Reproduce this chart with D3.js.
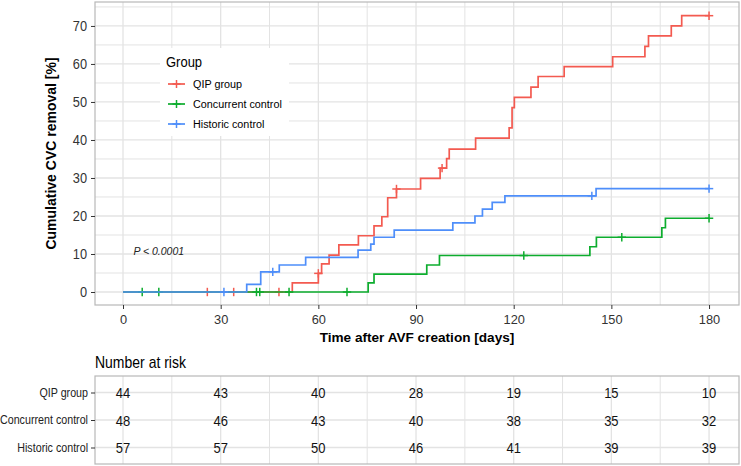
<!DOCTYPE html>
<html>
<head>
<meta charset="utf-8">
<script src="https://cdn.jsdelivr.net/npm/d3@7"></script>
<style>
  body { margin: 0; background: #fff; }
  svg { display: block; font-family: "Liberation Sans", Arial, sans-serif; }
</style>
</head>
<body>
<svg id="chart" width="741" height="466"></svg>
<script>
// group names and colours
const groups = ["QIP group", "Concurrent control", "Historic control"];
const colors = ["#F35A50", "#0DAD2E", "#4E8EFA"];

// step curves (event time in days, cumulative removal in %)
const qipTime = [0, 52, 60, 61, 63.3, 66.3, 72.3, 77.1, 79.5, 81.3, 84, 91.4, 97.4, 99.4, 100.2,
                 108.3, 118.6, 119.5, 120.2, 125.3, 127.5, 135.5, 150.4, 160.3, 161.4, 168.4, 171.6];
const qipPct  = [0, 2.4, 4.9, 7.4, 9.7, 12.4, 14.8, 17.4, 19.8, 24.8, 27.1, 29.9, 32.6, 35.1, 37.6,
                 40.5, 43.2, 48.5, 51.2, 53.9, 56.7, 59.3, 61.9, 64.6, 67.4, 70.0, 72.7];
const qipCensor = [25.9, 34, 47.9, 60, 84, 98, 180];

const ccTime = [0, 75.3, 77.1, 93.3, 97.2, 143.4, 145.4, 165.5, 166.6];
const ccPct  = [0, 2.4, 4.7, 7.1, 9.6, 11.9, 14.4, 16.9, 19.4];
const ccCensor = [5.9, 11, 41, 42, 51, 68.8, 123.1, 153.2, 180];

const hcTime = [0, 38, 42.3, 48, 56.1, 72.2, 76.1, 77.1, 83.3, 101.3, 108.1, 110.4, 113.4, 117.3, 145.3];
const hcPct  = [0, 2.0, 5.3, 7.1, 9.1, 11.0, 12.6, 14.4, 16.3, 18.2, 20.0, 21.8, 23.6, 25.3, 27.2];
const hcCensor = [31, 46, 144, 180];

// number at risk table
const riskTimes = [0, 30, 60, 90, 120, 150, 180];
const qipRisk = [44, 43, 40, 28, 19, 15, 10];
const ccRisk  = [48, 46, 43, 40, 38, 35, 32];
const hcRisk  = [57, 57, 50, 46, 41, 39, 39];

const xTicks = [0, 30, 60, 90, 120, 150, 180];
const yTicks = [0, 10, 20, 30, 40, 50, 60, 70];
const maxTime = 180;

const curves = [
  {time: qipTime, pct: qipPct, censor: qipCensor, risk: qipRisk},
  {time: ccTime, pct: ccPct, censor: ccCensor, risk: ccRisk},
  {time: hcTime, pct: hcPct, censor: hcCensor, risk: hcRisk}
];

const svg = d3.select("#chart");
const panel = {left: 95, right: 739, top: 2, bottom: 305};
const table = {top: 376, bottom: 464};
const gridCol = "#E3E3E3";
const borderCol = "#B8B8B8";

let x = d3.scaleLinear().domain([-8.6, 189.2]).range([panel.left, panel.right]);
let y = d3.scaleLinear().domain([-3.42, 76.3]).range([panel.bottom, panel.top]);

// the reference text is a bit taller than wide, stretch it vertically
function stretch(sel, k) {
  sel.each(function() {
    let t = d3.select(this);
    let tx = +t.attr("x") || 0, tyy = +t.attr("y") || 0;
    t.attr("transform", "translate(" + tx + "," + tyy + ") scale(1," + k + ") translate(" + (-tx) + "," + (-tyy) + ")");
  });
}

// ---- main panel grid
let grid = svg.append("g");
let minorX = d3.range(15, 190, 30);
let minorY = d3.range(5, 80, 10);
grid.selectAll(".mx").data(minorX).enter().append("line")
    .attr("x1", d => x(d)).attr("x2", d => x(d))
    .attr("y1", panel.top).attr("y2", panel.bottom)
    .attr("stroke", gridCol).attr("stroke-width", 1);
grid.selectAll(".my").data(minorY).enter().append("line")
    .attr("y1", d => y(d)).attr("y2", d => y(d))
    .attr("x1", panel.left).attr("x2", panel.right)
    .attr("stroke", gridCol).attr("stroke-width", 1);
grid.selectAll(".gx").data(xTicks).enter().append("line")
    .attr("x1", d => x(d)).attr("x2", d => x(d))
    .attr("y1", panel.top).attr("y2", panel.bottom)
    .attr("stroke", gridCol).attr("stroke-width", 1.3);
grid.selectAll(".gy").data(yTicks).enter().append("line")
    .attr("y1", d => y(d)).attr("y2", d => y(d))
    .attr("x1", panel.left).attr("x2", panel.right)
    .attr("stroke", gridCol).attr("stroke-width", 1.3);

// ---- legend background (covers grid)
svg.append("rect")
    .attr("x", 160).attr("y", 48).attr("width", 129).attr("height", 88)
    .attr("fill", "#fff");

// ---- curves
function stepAt(c, t) {
  let v = 0;
  for (let i = 0; i < c.time.length; i++) if (c.time[i] <= t) v = c.pct[i];
  return v;
}
function plus(g, cx, cy, col, s) {
  g.append("line").attr("x1", cx - s).attr("x2", cx + s).attr("y1", cy).attr("y2", cy)
   .attr("stroke", col).attr("stroke-width", 1.5);
  g.append("line").attr("x1", cx).attr("x2", cx).attr("y1", cy - s).attr("y2", cy + s)
   .attr("stroke", col).attr("stroke-width", 1.5);
}

curves.forEach(function(c, gi) {
  let pts = c.time.map((t, i) => [t, c.pct[i]]);
  pts.push([maxTime, c.pct[c.pct.length - 1]]);
  let line = d3.line().x(d => x(d[0])).y(d => y(d[1])).curve(d3.curveStepAfter);
  let g = svg.append("g");
  g.append("path").datum(pts)
    .attr("d", line)
    .attr("fill", "none")
    .attr("stroke", colors[gi])
    .attr("stroke-width", 1.7);
  c.censor.forEach(t => plus(g, x(t), y(stepAt(c, t)), colors[gi], 4.2));
});

// ---- panel border
svg.append("rect")
    .attr("x", panel.left).attr("y", panel.top)
    .attr("width", panel.right - panel.left).attr("height", panel.bottom - panel.top)
    .attr("fill", "none").attr("stroke", borderCol).attr("stroke-width", 1.2);

// ---- axes
let xAxis = svg.append("g")
    .attr("transform", "translate(0," + panel.bottom + ")")
    .call(d3.axisBottom(x).tickValues(xTicks).tickSize(4).tickPadding(6));
let yAxis = svg.append("g")
    .attr("transform", "translate(" + panel.left + ",0)")
    .call(d3.axisLeft(y).tickValues(yTicks).tickSize(4).tickPadding(4));
[xAxis, yAxis].forEach(function(a) {
  a.select(".domain").remove();
  a.selectAll(".tick line").attr("stroke", "#333");
  a.selectAll(".tick text")
   .attr("fill", "#333")
   .style("font-size", "12.8px")
   .style("font-family", "Liberation Sans, Arial, sans-serif");
});
stretch(yAxis.selectAll(".tick text"), 1.08);

svg.append("text")
    .attr("x", (panel.left + panel.right) / 2).attr("y", 342)
    .attr("text-anchor", "middle")
    .style("font-size", "13.6px").style("font-weight", "bold")
    .text("Time after AVF creation [days]");

svg.append("text")
    .attr("transform", "translate(56," + (panel.top + panel.bottom) / 2 + ") rotate(-90)")
    .attr("text-anchor", "middle")
    .style("font-size", "14px").style("font-weight", "bold")
    .text("Cumulative CVC removal [%]");

svg.append("text")
    .attr("x", x(3.2)).attr("y", y(10.6))
    .attr("dy", "0.35em")
    .style("font-size", "10.5px").style("font-style", "italic")
    .attr("fill", "#222")
    .text("P < 0.0001");

// ---- legend
let leg = svg.append("g");
let lt = leg.append("text").attr("x", 166).attr("y", 67)
   .style("font-size", "13px").text("Group");
stretch(lt, 1.08);
groups.forEach(function(name, i) {
  let ly = 84 + i * 20;
  leg.append("line").attr("x1", 168).attr("x2", 185).attr("y1", ly).attr("y2", ly)
     .attr("stroke", colors[i]).attr("stroke-width", 1.7);
  plus(leg, 176.5, ly, colors[i], 4);
  let t = leg.append("text").attr("x", 193).attr("y", ly).attr("dy", "0.35em")
     .style("font-size", "10.8px").text(name);
  stretch(t, 1.08);
});

// ---- number at risk table
let nt = svg.append("text").attr("x", panel.left).attr("y", 368)
   .style("font-size", "14px").text("Number at risk");
stretch(nt, 1.15);

let ty = d3.scalePoint().domain(groups).range([table.top, table.bottom]).padding(0.6);
let tg = svg.append("g");
tg.selectAll(".tmx").data(minorX.concat(xTicks)).enter().append("line")
  .attr("x1", d => x(d)).attr("x2", d => x(d))
  .attr("y1", table.top).attr("y2", table.bottom)
  .attr("stroke", gridCol).attr("stroke-width", d => d % 30 === 0 ? 1.3 : 1);
tg.selectAll(".tgy").data(groups).enter().append("line")
  .attr("x1", panel.left).attr("x2", panel.right)
  .attr("y1", d => ty(d)).attr("y2", d => ty(d))
  .attr("stroke", gridCol).attr("stroke-width", 1.3);

curves.forEach(function(c, gi) {
  let sel = tg.selectAll(".r" + gi).data(c.risk).enter().append("text")
    .attr("x", (d, i) => x(riskTimes[i]))
    .attr("y", ty(groups[gi]))
    .attr("dy", "0.36em")
    .attr("text-anchor", "middle")
    .style("font-size", "13px")
    .attr("fill", "#111")
    .text(d => d);
  stretch(sel, 1.18);
});

svg.append("rect")
   .attr("x", panel.left).attr("y", table.top)
   .attr("width", panel.right - panel.left).attr("height", table.bottom - table.top)
   .attr("fill", "none").attr("stroke", borderCol).attr("stroke-width", 1.2);

let tAxis = svg.append("g")
   .attr("transform", "translate(" + panel.left + ",0)")
   .call(d3.axisLeft(ty).tickSize(4).tickPadding(3));
tAxis.select(".domain").remove();
tAxis.selectAll(".tick line").attr("stroke", "#333");
tAxis.selectAll(".tick text")
   .attr("fill", "#222")
   .style("font-size", "10.7px")
   .style("font-family", "Liberation Sans, Arial, sans-serif");
stretch(tAxis.selectAll(".tick text"), 1.12);
</script>
</body>
</html>
